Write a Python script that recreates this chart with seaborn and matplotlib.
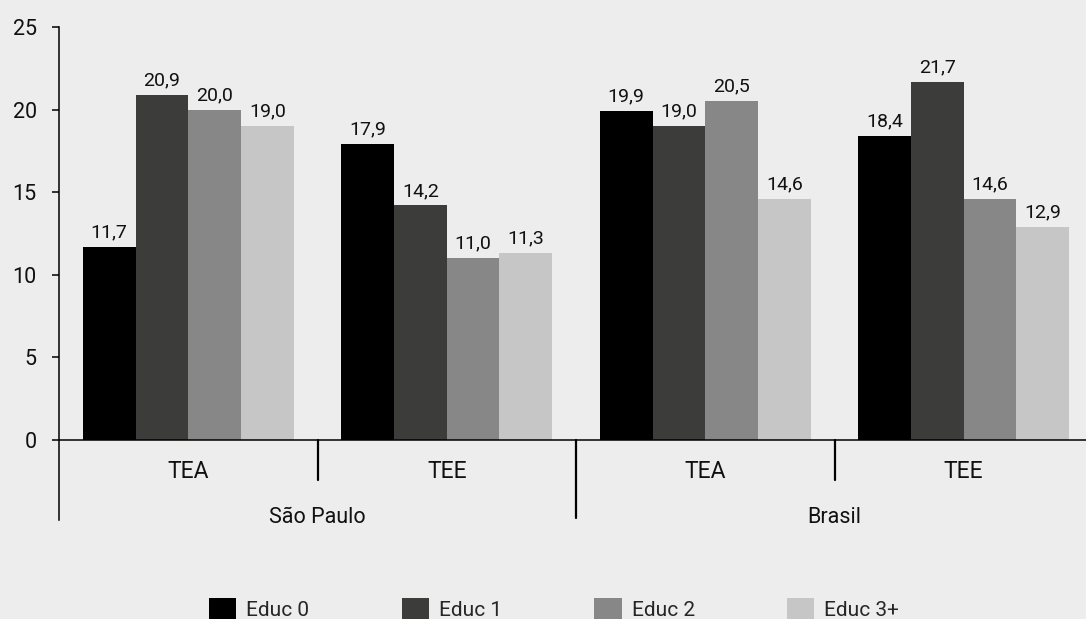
import matplotlib
matplotlib.use("Agg")
import matplotlib.pyplot as plt
from matplotlib.patches import Patch
import pandas as pd
import seaborn as sns

# Data: entrepreneurship rates (TEA / TEE) by education level
regions = ["São Paulo", "São Paulo", "Brasil", "Brasil"]
indicators = ["TEA", "TEE", "TEA", "TEE"]
levels = ["Educ 0", "Educ 1", "Educ 2", "Educ 3+"]
educ0 = [11.7, 17.9, 19.9, 18.4]
educ1 = [20.9, 14.2, 19.0, 21.7]
educ2 = [20.0, 11.0, 20.5, 14.6]
educ3 = [19.0, 11.3, 14.6, 12.9]
y_ticks = [0, 5, 10, 15, 20, 25]
colors = ["#000000", "#3c3c3a", "#878787", "#c6c6c6"]

series = [educ0, educ1, educ2, educ3]
groups = [f"{r}|{i}" for r, i in zip(regions, indicators)]
rows = []
for lvl, vals in zip(levels, series):
    for g, v in zip(groups, vals):
        rows.append({"grupo": g, "nivel": lvl, "valor": v})
df = pd.DataFrame(rows)

bg = "#ededed"
sns.set_theme(style="white", rc={"axes.facecolor": bg, "figure.facecolor": bg})
plt.rcParams["font.family"] = ["Roboto", "DejaVu Sans"]

W, H = 1086, 619
fig = plt.figure(figsize=(W / 100, H / 100), dpi=100)
ax = fig.add_axes([59 / W, (H - 520) / H, (1093 - 59) / W, (520 - 27) / H])

sns.barplot(data=df, x="grupo", y="valor", hue="nivel", order=groups,
            hue_order=levels, palette=colors, saturation=1, width=0.816,
            errorbar=None, legend=False, linewidth=0, ax=ax)

for cont, vals in zip(ax.containers, series):
    ax.bar_label(cont, labels=[f"{v:.1f}".replace(".", ",") for v in vals],
                 padding=4, fontsize=14, color="#111111")

ax.set_xlim(-0.5, 3.5)
ax.set_ylim(-4.84, 25)
ax.set_yticks(y_ticks)
ax.set_yticklabels([str(t) for t in y_ticks], fontsize=15.5, color="#111111")
ax.tick_params(axis="y", direction="out", length=5, width=1.1, color="black",
               pad=11, left=True)
ax.tick_params(axis="x", bottom=False, labelbottom=False)
ax.set_xlabel("")
ax.set_ylabel("")
for s in ["top", "right", "bottom"]:
    ax.spines[s].set_visible(False)
ax.spines["left"].set_color("black")
ax.spines["left"].set_linewidth(1.1)
ax.axhline(0, color="black", lw=1.1, zorder=3)

# Category labels and separators below the baseline
for i, ind in enumerate(indicators):
    ax.text(i, -1.88, ind, ha="center", va="center", fontsize=16.5, color="#111111")
for x in (0.5, 2.5):
    ax.plot([x, x], [0, -2.42], color="black", lw=1.6, clip_on=False)
ax.plot([1.5, 1.5], [0, -4.72], color="black", lw=1.6, clip_on=False)
for cx, name in ((0.5, "São Paulo"), (2.5, "Brasil")):
    ax.text(cx, -4.66, name, ha="center", va="center", fontsize=15.5, color="#111111")

handles = [Patch(facecolor=c, edgecolor="none", label=l) for c, l in zip(colors, levels)]
fig.legend(handles=handles, loc="center", bbox_to_anchor=(554 / W, (H - 609) / H),
           ncol=4, frameon=False, fontsize=15, handlelength=1.3, handleheight=1.3,
           handletextpad=0.48, columnspacing=4.45, borderpad=0, borderaxespad=0)

fig.savefig("out.png", dpi=100, facecolor=bg)
